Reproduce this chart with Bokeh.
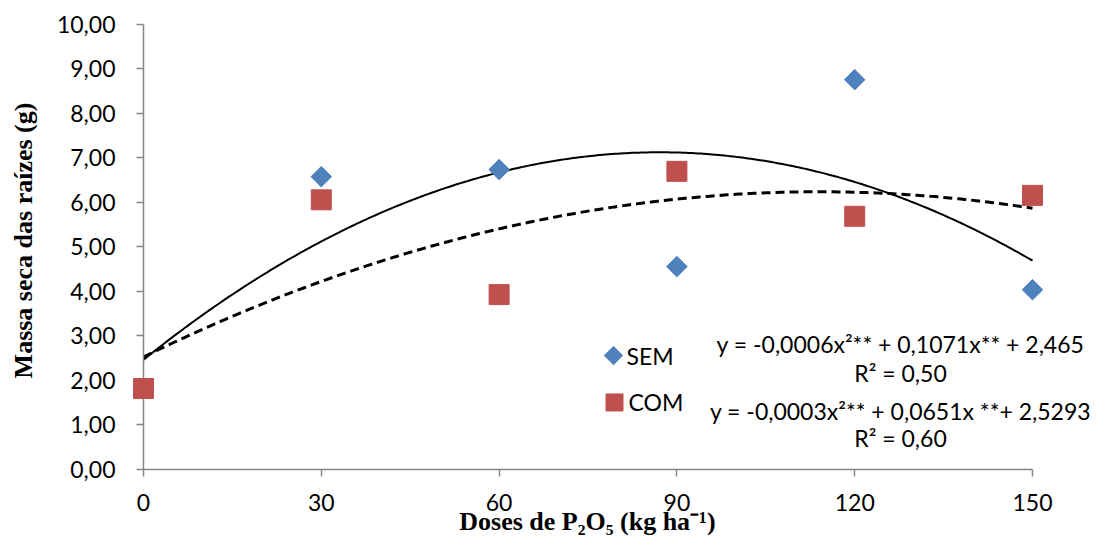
import numpy as np
from bokeh.plotting import figure
from bokeh.models import Range1d, FixedTicker, Label
from bokeh.embed import file_html
from bokeh.resources import INLINE

# ---- data ----
doses_sem = [30, 60, 90, 120, 150]
sem_values = [6.58, 6.74, 4.56, 8.76, 4.04]
doses_com = [0, 30, 60, 90, 120, 150]
com_values = [1.82, 6.06, 3.93, 6.70, 5.69, 6.16]
# quadratic trend coefficients (a, b, c) as drawn
sem_coef = [-0.000615, 0.1071, 2.465]
com_coef = [-0.0002855, 0.0651, 2.5293]
x_ticks = [0, 30, 60, 90, 120, 150]
y_ticks = [0, 1, 2, 3, 4, 5, 6, 7, 8, 9, 10]
y_tick_labels = ["0,00", "1,00", "2,00", "3,00", "4,00", "5,00", "6,00", "7,00", "8,00", "9,00", "10,00"]
legend_labels = ["SEM", "COM"]
equations = ["y = -0,0006x²** + 0,1071x** + 2,465", "R² = 0,50",
             "y = -0,0003x²** + 0,0651x **+ 2,5293", "R² = 0,60"]
x_title = "Doses de P₂O₅ (kg ha⁻¹)"
y_title = "Massa seca das raízes (g)"

BLUE = "#4F81BD"
RED = "#C0504D"
AXIS = "#868686"

# frame covers the whole canvas; axes are pinned at x=0 / y=0
p = figure(width=1093, height=536, output_backend="svg", toolbar_location=None,
           x_range=Range1d(-24.13, 160.29), y_range=Range1d(-1.506, 10.539),
           min_border=0, min_border_left=0, min_border_right=0,
           min_border_top=0, min_border_bottom=0)
p.outline_line_color = None
p.xgrid.visible = False
p.ygrid.visible = False
p.background_fill_color = "white"

# trend lines
xs = np.linspace(0, 150, 301)
sem_fit = sem_coef[0] * xs**2 + sem_coef[1] * xs + sem_coef[2]
com_fit = com_coef[0] * xs**2 + com_coef[1] * xs + com_coef[2]
p.line(xs, sem_fit, line_color="black", line_width=2)
p.line(xs, com_fit, line_color="black", line_width=3, line_dash="9 5")

# points
r1 = p.scatter(doses_sem, sem_values, marker="square", size=14.5, angle=np.pi / 4,
               fill_color=BLUE, line_color=BLUE)
r2 = p.scatter(doses_com, com_values, marker="square", size=20,
               fill_color=RED, line_color=RED)
r1.level = "overlay"
r2.level = "overlay"

# axes
for ax in (p.xaxis[0], p.yaxis[0]):
    ax.axis_line_color = AXIS
    ax.axis_line_width = 1.5
    ax.major_tick_line_color = AXIS
    ax.major_tick_line_width = 1.5
    ax.major_tick_out = 7
    ax.major_tick_in = 0
    ax.minor_tick_line_color = None
    ax.major_label_text_font = "Lato"
    ax.major_label_text_font_size = "23px"
    ax.major_label_text_color = "black"
    ax.fixed_location = 0

p.xaxis.ticker = FixedTicker(ticks=x_ticks)
p.xaxis.bounds = (0, 150)
p.xaxis.major_label_standoff = 18

p.yaxis.ticker = FixedTicker(ticks=y_ticks)
p.yaxis.bounds = (0, 10)
p.yaxis.major_label_overrides = {t: l for t, l in zip(y_ticks, y_tick_labels)}
p.yaxis.major_label_standoff = 21

# axis titles
p.add_layout(Label(x=74.9, y=-1.17, text=x_title, text_font="Liberation Serif",
                   text_font_style="bold", text_font_size="26px", text_color="black",
                   text_align="center", text_baseline="middle"))
p.add_layout(Label(x=-20.25, y=5.146, text=y_title, text_font="Liberation Serif",
                   text_font_style="bold", text_font_size="26px", text_color="black",
                   text_align="center", text_baseline="middle", angle=np.pi / 2))

# legend (manual)
p.scatter([79.3], [2.56], marker="square", size=13, angle=np.pi / 4,
          fill_color=BLUE, line_color=BLUE)
p.scatter([79.47], [1.506], marker="square", size=17, fill_color=RED, line_color=RED)
p.add_layout(Label(x=81.5, y=2.56, text=legend_labels[0], text_font="Lato",
                   text_font_size="23px", text_baseline="middle", text_color="black"))
p.add_layout(Label(x=81.83, y=1.506, text=legend_labels[1], text_font="Lato",
                   text_font_size="23px", text_baseline="middle", text_color="black"))

# equations
eq_y = [2.83, 2.157, 1.315, 0.697]
for t, yy in zip(equations, eq_y):
    p.add_layout(Label(x=127.73, y=yy, text=t, text_font="Lato", text_font_size="23px",
                       text_align="center", text_baseline="middle", text_color="black"))

open("out.html", "w").write(file_html(p, INLINE))
